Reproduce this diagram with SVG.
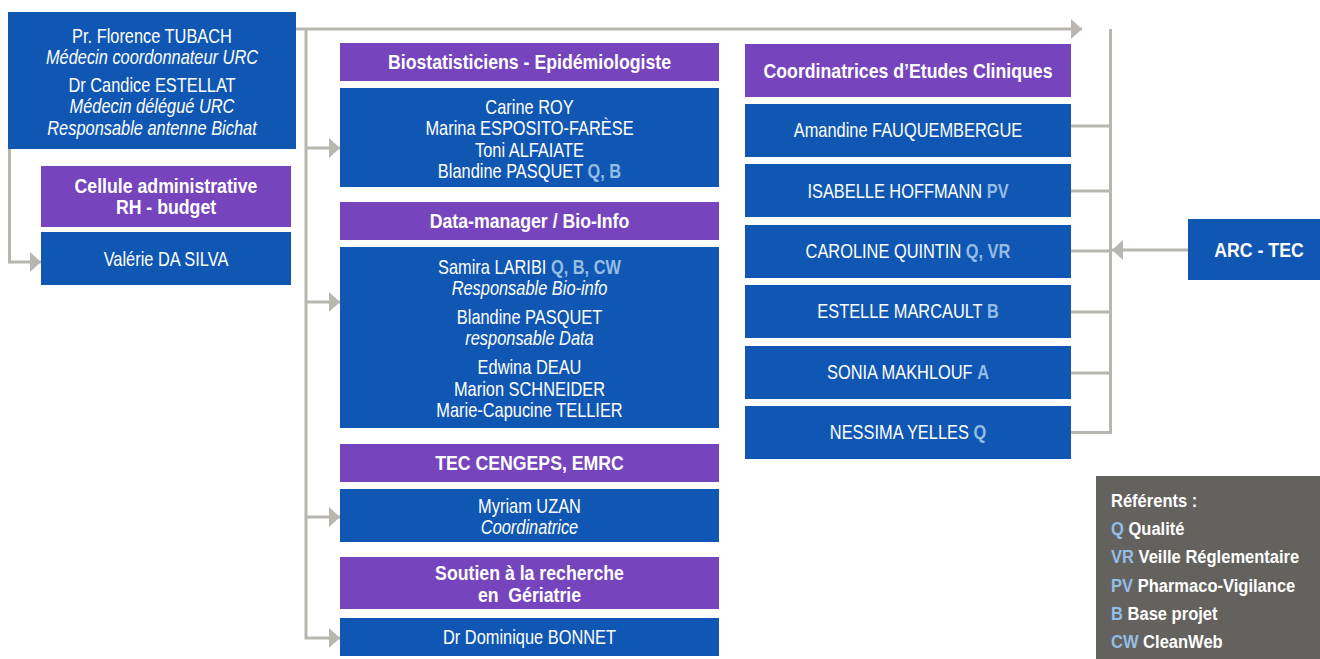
<svg xmlns="http://www.w3.org/2000/svg" width="1320" height="659" viewBox="0 0 1320 659">
<defs>
<marker id="ah" markerWidth="11" markerHeight="20" refX="11" refY="10" orient="auto" markerUnits="userSpaceOnUse">
<path d="M0,0 L11,10 L0,20 Z" fill="#b9b6b0"/>
</marker>
<style>
.blue{fill:#1057b4}
.purple{fill:#7645bd}
.legend{fill:#64625e}
.t{font-family:"Liberation Sans",Arial,sans-serif;font-size:20px;fill:#ffffff;text-anchor:middle}
.i{font-style:italic}
.b{font-weight:bold}
.code{fill:#94bde6;font-weight:bold}
.lg{font-family:"Liberation Sans",Arial,sans-serif;font-size:19px;fill:#ffffff;font-weight:bold}
.c{fill:none;stroke:#b9b6b0;stroke-width:3}
</style>
</defs>
<rect width="1320" height="659" fill="#ffffff"/>

<g id="connectors">
<path class="c" d="M9.5,149 V262 H41" marker-end="url(#ah)"/>
<path class="c" d="M296,29 H1082" marker-end="url(#ah)"/>
<path class="c" d="M306,29 V638 H340" marker-end="url(#ah)"/>
<path class="c" d="M306,148 H340" marker-end="url(#ah)"/>
<path class="c" d="M306,302 H340" marker-end="url(#ah)"/>
<path class="c" d="M306,517 H340" marker-end="url(#ah)"/>
<path class="c" d="M1110.5,29 V432.5 H1071"/>
<path class="c" d="M1071,126 H1110.5 M1071,191 H1110.5 M1071,251 H1110.5 M1071,312 H1110.5 M1071,373 H1110.5"/>
<path class="c" d="M1188,250 H1112" marker-end="url(#ah)"/>
</g>

<g id="direction">
<rect class="blue" x="8" y="12" width="288" height="137"/>
<text class="t" transform="translate(152,0) scale(0.82,1)" y="43">Pr. Florence TUBACH</text>
<text class="t i" transform="translate(152,0) scale(0.82,1)" y="64">Médecin coordonnateur URC</text>
<text class="t" transform="translate(152,0) scale(0.82,1)" y="92">Dr Candice ESTELLAT</text>
<text class="t i" transform="translate(152,0) scale(0.82,1)" y="113.5">Médecin délégué URC</text>
<text class="t i" transform="translate(152,0) scale(0.82,1)" y="135">Responsable antenne Bichat</text>
</g>

<g id="cellule-admin">
<rect class="purple" x="41" y="166" width="250" height="61"/>
<text class="t b" transform="translate(166,0) scale(0.885,1)" y="193">Cellule administrative</text>
<text class="t b" transform="translate(166,0) scale(0.885,1)" y="214">RH - budget</text>
</g>
<g id="valerie">
<rect class="blue" x="41" y="232" width="250" height="53"/>
<text class="t" transform="translate(166,0) scale(0.82,1)" y="266">Valérie DA SILVA</text>
</g>

<g id="biostat-title">
<rect class="purple" x="340" y="43" width="379" height="38"/>
<text class="t b" transform="translate(529.5,0) scale(0.885,1)" y="69">Biostatisticiens - Epidémiologiste</text>
</g>
<g id="biostat">
<rect class="blue" x="340" y="88" width="379" height="99"/>
<text class="t" transform="translate(529.5,0) scale(0.82,1)" y="114">Carine ROY</text>
<text class="t" transform="translate(529.5,0) scale(0.82,1)" y="135">Marina ESPOSITO-FARÈSE</text>
<text class="t" transform="translate(529.5,0) scale(0.82,1)" y="157">Toni ALFAIATE</text>
<text class="t" transform="translate(529.5,0) scale(0.82,1)" y="178">Blandine PASQUET <tspan class="code">Q, B</tspan></text>
</g>

<g id="datamanager-title">
<rect class="purple" x="340" y="202" width="379" height="38"/>
<text class="t b" transform="translate(529.5,0) scale(0.885,1)" y="228">Data-manager / Bio-Info</text>
</g>
<g id="datamanager">
<rect class="blue" x="340" y="247" width="379" height="181"/>
<text class="t" transform="translate(529.5,0) scale(0.82,1)" y="274">Samira LARIBI <tspan class="code">Q, B, CW</tspan></text>
<text class="t i" transform="translate(529.5,0) scale(0.82,1)" y="295">Responsable Bio-info</text>
<text class="t" transform="translate(529.5,0) scale(0.82,1)" y="324">Blandine PASQUET</text>
<text class="t i" transform="translate(529.5,0) scale(0.82,1)" y="345">responsable Data</text>
<text class="t" transform="translate(529.5,0) scale(0.82,1)" y="374">Edwina DEAU</text>
<text class="t" transform="translate(529.5,0) scale(0.82,1)" y="396">Marion SCHNEIDER</text>
<text class="t" transform="translate(529.5,0) scale(0.82,1)" y="417">Marie-Capucine TELLIER</text>
</g>

<g id="tec-title">
<rect class="purple" x="340" y="444" width="379" height="38"/>
<text class="t b" transform="translate(529.5,0) scale(0.885,1)" y="470">TEC CENGEPS, EMRC</text>
</g>
<g id="tec">
<rect class="blue" x="340" y="489" width="379" height="53"/>
<text class="t" transform="translate(529.5,0) scale(0.82,1)" y="513">Myriam UZAN</text>
<text class="t i" transform="translate(529.5,0) scale(0.82,1)" y="534">Coordinatrice</text>
</g>

<g id="geriatrie-title">
<rect class="purple" x="340" y="557" width="379" height="52"/>
<text class="t b" transform="translate(529.5,0) scale(0.885,1)" y="580">Soutien à la recherche</text>
<text class="t b" transform="translate(529.5,0) scale(0.885,1)" y="602" xml:space="preserve">en  Gériatrie</text>
</g>
<g id="geriatrie">
<rect class="blue" x="340" y="618" width="379" height="38"/>
<text class="t" transform="translate(529.5,0) scale(0.82,1)" y="644">Dr Dominique BONNET</text>
</g>

<g id="cec-title">
<rect class="purple" x="745" y="44" width="326" height="53"/>
<text class="t b" transform="translate(908,0) scale(0.885,1)" y="78">Coordinatrices d’Etudes Cliniques</text>
</g>
<g id="amandine">
<rect class="blue" x="745" y="104" width="326" height="53"/>
<text class="t" transform="translate(908,0) scale(0.82,1)" y="137">Amandine FAUQUEMBERGUE</text>
</g>
<g id="isabelle">
<rect class="blue" x="745" y="164" width="326" height="53"/>
<text class="t" transform="translate(908,0) scale(0.82,1)" y="198">ISABELLE HOFFMANN <tspan class="code">PV</tspan></text>
</g>
<g id="caroline">
<rect class="blue" x="745" y="225" width="326" height="53"/>
<text class="t" transform="translate(908,0) scale(0.82,1)" y="258">CAROLINE QUINTIN <tspan class="code">Q, VR</tspan></text>
</g>
<g id="estelle">
<rect class="blue" x="745" y="285" width="326" height="53"/>
<text class="t" transform="translate(908,0) scale(0.82,1)" y="318">ESTELLE MARCAULT <tspan class="code">B</tspan></text>
</g>
<g id="sonia">
<rect class="blue" x="745" y="346" width="326" height="53"/>
<text class="t" transform="translate(908,0) scale(0.82,1)" y="379">SONIA MAKHLOUF <tspan class="code">A</tspan></text>
</g>
<g id="nessima">
<rect class="blue" x="745" y="406" width="326" height="53"/>
<text class="t" transform="translate(908,0) scale(0.82,1)" y="439">NESSIMA YELLES <tspan class="code">Q</tspan></text>
</g>

<g id="arc-tec">
<rect class="blue" x="1188" y="219" width="132" height="61"/>
<text class="t b" transform="translate(1259,0) scale(0.885,1)" y="257">ARC - TEC</text>
</g>

<g id="legend">
<rect class="legend" x="1096" y="476" width="224" height="183"/>
<text class="lg" transform="translate(1111,0) scale(0.87,1)" y="507">Référents :</text>
<text class="lg" transform="translate(1111,0) scale(0.87,1)" y="535"><tspan class="code">Q</tspan> Qualité</text>
<text class="lg" transform="translate(1111,0) scale(0.87,1)" y="563"><tspan class="code">VR</tspan> Veille Réglementaire</text>
<text class="lg" transform="translate(1111,0) scale(0.87,1)" y="592"><tspan class="code">PV</tspan> Pharmaco-Vigilance</text>
<text class="lg" transform="translate(1111,0) scale(0.87,1)" y="620"><tspan class="code">B</tspan> Base projet</text>
<text class="lg" transform="translate(1111,0) scale(0.87,1)" y="648"><tspan class="code">CW</tspan> CleanWeb</text>
</g>
</svg>
